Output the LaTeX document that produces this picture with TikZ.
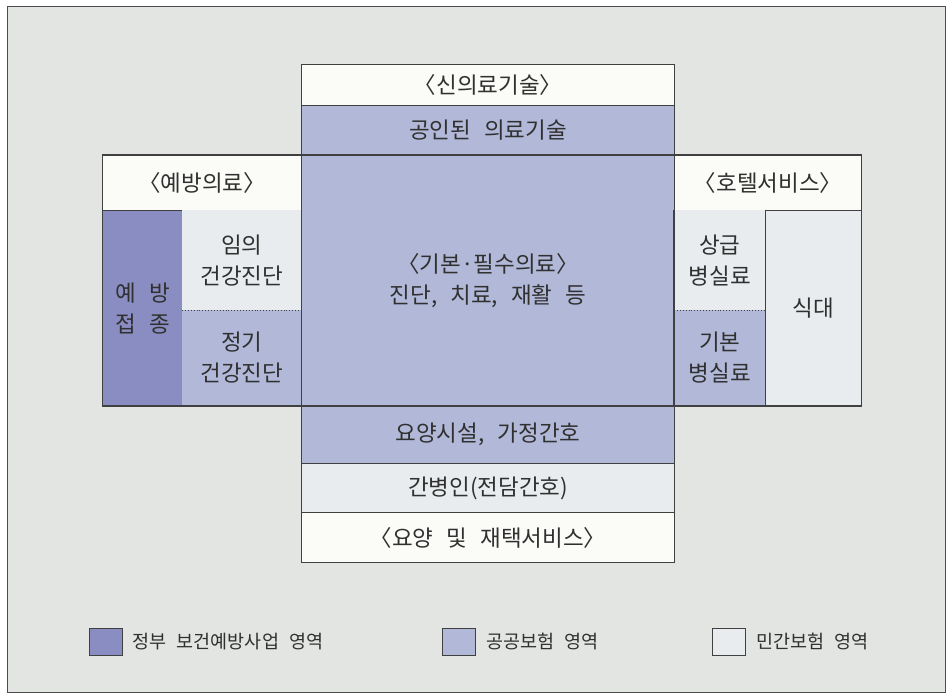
\documentclass[tikz,border=0pt]{standalone}
\usepackage{fontspec}
\setmainfont{Noto Sans CJK KR}[WordSpace=2.6]
\definecolor{bgc}{HTML}{E2E5E1}
\definecolor{govc}{HTML}{8A8DC1}
\definecolor{pubc}{HTML}{B1B8D8}
\definecolor{privc}{HTML}{E8ECEE}
\definecolor{whc}{HTML}{FBFBF8}
\definecolor{inkc}{HTML}{303030}
\definecolor{linec}{HTML}{404040}
\tikzset{
  cell/.style={rectangle, inner sep=0pt, anchor=north west, text=inkc, align=center,
    font=\fontsize{22.5}{31}\selectfont},
  celldraw/.style={cell, draw=linec, line width=1.1pt},
  swatch/.style={rectangle, inner sep=0pt, anchor=north west, draw=linec, line width=0.9pt,
    minimum width=33pt, minimum height=27pt},
  legtext/.style={anchor=west, inner sep=0pt, text=inkc, font=\fontsize{18.5}{22}\selectfont},
  edge/.style={draw=linec, line width=1.1pt},
  dotedge/.style={draw=linec, line width=0.9pt, dotted}
}
\begin{document}
\begin{tikzpicture}[x=1pt,y=-1pt]
\useasboundingbox (0,0) rectangle (950,695);
\fill[white] (0,0) rectangle (950,695);
\draw[fill=bgc, draw=gray!60!black, line width=0.8pt] (7,6) rectangle (945,692);

% central column
\node[celldraw, fill=whc, minimum width=373pt, minimum height=41pt] (newtech) at (301,64) {〈신의료기술〉};
\node[celldraw, fill=pubc, minimum width=373pt, minimum height=50pt] (approved) at (301,105) {공인된 의료기술};
\node[celldraw, fill=pubc, minimum width=373pt, minimum height=250pt] (core) at (301,155) {〈기본·필수의료〉\\진단, 치료, 재활 등};
\node[celldraw, fill=pubc, minimum width=373pt, minimum height=58pt] (nursing) at (301,405) {요양시설, 가정간호};
\node[celldraw, fill=privc, minimum width=373pt, minimum height=49pt] (carer) at (301,463) {간병인(전담간호)};
\node[celldraw, fill=whc, minimum width=373pt, minimum height=50pt] (longterm) at (301,512) {〈요양 및 재택서비스〉};

% left block
\node[celldraw, fill=whc, minimum width=199pt, minimum height=55pt] (prevhead) at (102,155) {〈예방의료〉};
\node[celldraw, fill=govc, minimum width=80pt, minimum height=195pt] (vaccine) at (102,210) {예 방\\접 종};
\node[cell, fill=privc, minimum width=119pt, minimum height=100pt] (optional) at (182,210) {임의\\건강진단};
\node[cell, fill=pubc, minimum width=119pt, minimum height=95pt] (regular) at (182,310) {정기\\건강진단};

% right block
\node[celldraw, fill=whc, minimum width=187pt, minimum height=55pt] (hotelhead) at (674,155) {〈호텔서비스〉};
\node[cell, fill=privc, minimum width=91pt, minimum height=100pt] (premium) at (674,210) {상급\\병실료};
\node[cell, fill=pubc, minimum width=91pt, minimum height=95pt] (basicroom) at (674,310) {기본\\병실료};
\node[celldraw, fill=privc, minimum width=96pt, minimum height=195pt] (meal) at (765,210) {식대};

% edges of the split cells
\draw[edge] (optional.north east) -- (regular.south east) -- (regular.south west);
\draw[edge] (premium.north west) -- (basicroom.south west) -- (basicroom.south east);
\draw[dotedge] (optional.south west) -- (optional.south east);
\draw[dotedge] (premium.south west) -- (premium.south east);

% through lines
\draw[edge] (prevhead.north west) -- (hotelhead.north east);
\draw[edge] (vaccine.south west) -- (meal.south east);

% legend
\node[swatch, fill=govc] (lg1) at (89,628) {};
\node[legtext] (lt1) at ([xshift=9pt]lg1.east) {정부 보건예방사업 영역};
\node[swatch, fill=pubc] (lg2) at (442,628) {};
\node[legtext] (lt2) at ([xshift=10pt]lg2.east) {공공보험 영역};
\node[swatch, fill=privc] (lg3) at (712,628) {};
\node[legtext] (lt3) at ([xshift=10pt]lg3.east) {민간보험 영역};
\end{tikzpicture}
\end{document}
